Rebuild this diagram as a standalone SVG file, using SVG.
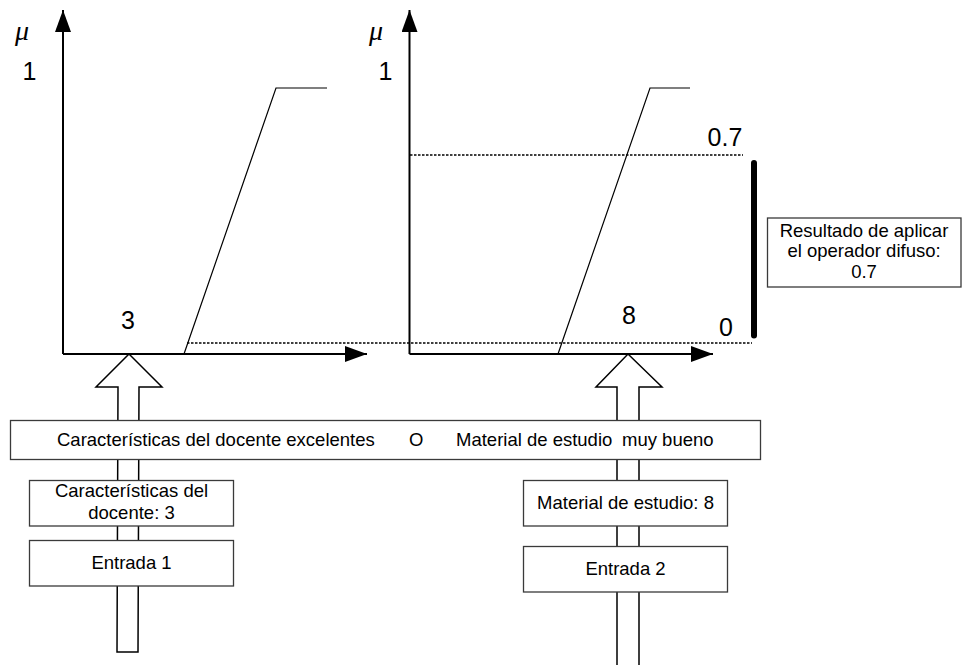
<svg xmlns="http://www.w3.org/2000/svg" width="963" height="665" viewBox="0 0 963 665">
  <style>
    .axis { stroke: #000; stroke-width: 2; fill: none; }
    .mf { stroke: #000; stroke-width: 1.2; fill: none; }
    .dash { stroke: #000; stroke-width: 1.3; stroke-dasharray: 2.5 1.5; fill: none; }
    .box { fill: #fff; stroke: #3a3a3a; stroke-width: 1.3; }
    .block { fill: #fff; stroke: #000; stroke-width: 1.5; stroke-linejoin: miter; }
    .big { font-family: "Liberation Sans", Arial, sans-serif; font-size: 25px; fill: #000; }
    .txt { font-family: "Liberation Sans", Arial, sans-serif; font-size: 18.5px; fill: #000; }
    .mu { font-family: "Liberation Serif", "Times New Roman", serif; font-style: italic; font-size: 28px; fill: #000; }
    .c { text-anchor: middle; }
  </style>
  <defs>
    <marker id="head" viewBox="0 0 22 16" refX="22" refY="8" markerWidth="22" markerHeight="16" markerUnits="userSpaceOnUse" orient="auto">
      <path d="M0,0 L22,8 L0,16 z" fill="#000"/>
    </marker>
  </defs>

  <rect width="963" height="665" fill="#fff"/>

  <!-- input arrows feeding the two charts -->
  <g id="connectors">
    <polygon class="block" points="129,354 96,387 118,387 117,652 138,652 139,387 162,387"/>
    <path class="block" d="M617,672 L617,387 L596,387 L628,354 L662,387 L639,387 L639,672"/>
  </g>

  <!-- chart 1: input 1 membership -->
  <g id="chart-1">
    <line class="axis" x1="63" y1="354" x2="63" y2="10" marker-end="url(#head)"/>
    <line class="axis" x1="63" y1="354" x2="367" y2="354" marker-end="url(#head)"/>
    <polyline class="mf" points="184,354 276,88 327,88"/>
    <text class="mu" x="15" y="40">μ</text>
    <text class="big c" x="29.5" y="80">1</text>
    <text class="big c" x="128" y="328.5">3</text>
  </g>

  <!-- chart 2: input 2 membership -->
  <g id="chart-2">
    <line class="axis" x1="409.5" y1="354" x2="409.5" y2="10" marker-end="url(#head)"/>
    <line class="axis" x1="409.5" y1="354" x2="713" y2="354" marker-end="url(#head)"/>
    <polyline class="mf" points="558,354 650,88 690,88"/>
    <text class="mu" x="369" y="40">μ</text>
    <text class="big c" x="385.5" y="80">1</text>
    <text class="big c" x="629" y="324">8</text>
  </g>

  <!-- membership levels and resulting interval -->
  <g id="levels">
    <line class="dash" x1="410" y1="155" x2="743" y2="155"/>
    <line class="dash" x1="187" y1="343" x2="752" y2="343"/>
    <line x1="754" y1="163" x2="754" y2="335.5" stroke="#000" stroke-width="6" stroke-linecap="round"/>
    <text class="big c" x="725" y="146">0.7</text>
    <text class="big c" x="726" y="336">0</text>
  </g>

  <g id="result">
    <rect class="box" x="767.5" y="218" width="193.5" height="69"/>
    <text class="txt c" x="864" y="236.5">Resultado de aplicar</text>
    <text class="txt c" x="864" y="257.3">el operador difuso:</text>
    <text class="txt c" x="864" y="278">0.7</text>
  </g>

  <g id="rule">
    <rect class="box" x="10.5" y="420.5" width="750" height="39"/>
    <text class="txt" x="57" y="446">Características del docente excelentes</text>
    <text class="txt" x="409" y="446">O</text>
    <text class="txt" x="456" y="446">Material de estudio</text>
    <text class="txt" x="622" y="446">muy bueno</text>
  </g>

  <g id="value-1">
    <rect class="box" x="29.5" y="480.5" width="204" height="45.5"/>
    <text class="txt c" x="131.5" y="497">Características del</text>
    <text class="txt c" x="131.5" y="519">docente: 3</text>
  </g>

  <g id="input-1">
    <rect class="box" x="29.5" y="540.5" width="204" height="45.5"/>
    <text class="txt c" x="131.5" y="568.5">Entrada 1</text>
  </g>

  <g id="value-2">
    <rect class="box" x="523.5" y="480.5" width="204" height="45.5"/>
    <text class="txt c" x="625.5" y="509">Material de estudio: 8</text>
  </g>

  <g id="input-2">
    <rect class="box" x="523.5" y="546.5" width="204" height="45.5"/>
    <text class="txt c" x="625.5" y="574.5">Entrada 2</text>
  </g>
</svg>
